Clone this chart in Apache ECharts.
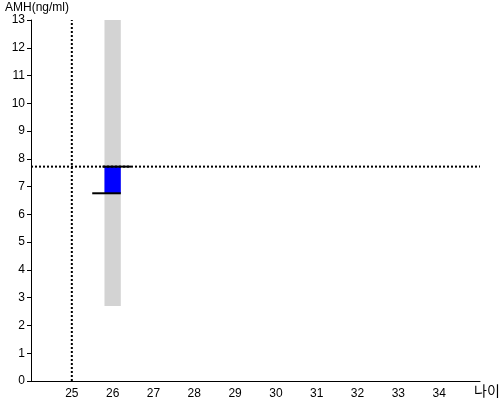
<!DOCTYPE html>
<html>
<head>
<meta charset="utf-8">
<script src="https://cdn.jsdelivr.net/npm/echarts@6/dist/echarts.min.js"></script>
<style>html,body{margin:0;padding:0;background:#fff}#c{width:500px;height:400px}</style>
</head>
<body>
<div id="c"></div>
<script>
// Data
const xRange = [24, 35];
const yRange = [0, 13];
const refAge = 25;
const refAMH = 7.72;
const bandRect = [[25.8, 2.7, 26.2, 13]];      // [x0, y0, x1, y1]
const boxRect = [[25.8, 6.76, 26.2, 7.72]];
const upperSeg = [[25.75, 7.72], [26.45, 7.72]];
const lowerSeg = [[25.5, 6.76], [26.2, 6.76]];

const font = 'Liberation Sans, Arial, sans-serif';
const chart = echarts.init(document.getElementById('c'), null, {renderer: 'canvas'});

function rectItem(color) {
  return function (params, api) {
    const p0 = api.coord([api.value(0), api.value(1)]);
    const p1 = api.coord([api.value(2), api.value(3)]);
    return {
      type: 'rect',
      shape: {x: Math.min(p0[0], p1[0]), y: Math.min(p0[1], p1[1]),
              width: Math.abs(p1[0] - p0[0]), height: Math.abs(p1[1] - p0[1])},
      style: {fill: color}
    };
  };
}

chart.setOption({
  animation: false,
  backgroundColor: '#fff',
  grid: {left: 31, right: 20, top: 20, bottom: 19, outerBoundsMode: 'none', containLabel: false},
  xAxis: {
    type: 'value', min: xRange[0], max: xRange[1], interval: 1,
    name: '나이', nameLocation: 'end', nameGap: -6,
    nameTextStyle: {fontSize: 14, color: '#000', fontFamily: '"Noto Sans CJK KR", sans-serif',
      verticalAlign: 'top', padding: [3, 0, 0, 0]},
    axisLine: {show: true, lineStyle: {color: '#000', width: 1}},
    axisTick: {show: false},
    splitLine: {show: false},
    axisLabel: {color: '#000', fontSize: 12, fontFamily: font, margin: 7,
      showMinLabel: false, showMaxLabel: false}
  },
  yAxis: {
    type: 'value', min: yRange[0], max: yRange[1], interval: 1,
    name: 'AMH(ng/ml)', nameLocation: 'end', nameGap: -3,
    nameTextStyle: {fontSize: 12, color: '#000', fontFamily: font, align: 'center', padding: [0, 0, 0, 12]},
    axisLine: {show: true, lineStyle: {color: '#000', width: 1}},
    axisTick: {show: true, length: 4, lineStyle: {color: '#000'}},
    splitLine: {show: false},
    axisLabel: {color: '#000', fontSize: 12, fontFamily: font, margin: 6}
  },
  series: [
    {type: 'custom', renderItem: rectItem('#d3d3d3'), data: bandRect, z: 1},
    {type: 'custom', renderItem: rectItem('#0000ff'), data: boxRect, z: 2},
    {type: 'line', data: [[refAge, yRange[0]], [refAge, yRange[1]]], symbol: 'none',
      lineStyle: {color: '#000', width: 2, type: [2, 2]}, z: 3},
    {type: 'line', data: [[xRange[0], refAMH], [xRange[1], refAMH]], symbol: 'none',
      lineStyle: {color: '#000', width: 2, type: [2, 2]}, z: 3},
    {type: 'line', data: upperSeg, symbol: 'none', lineStyle: {color: '#000', width: 2}, z: 4},
    {type: 'line', data: lowerSeg, symbol: 'none', lineStyle: {color: '#000', width: 2}, z: 4}
  ]
});
</script>
</body>
</html>
